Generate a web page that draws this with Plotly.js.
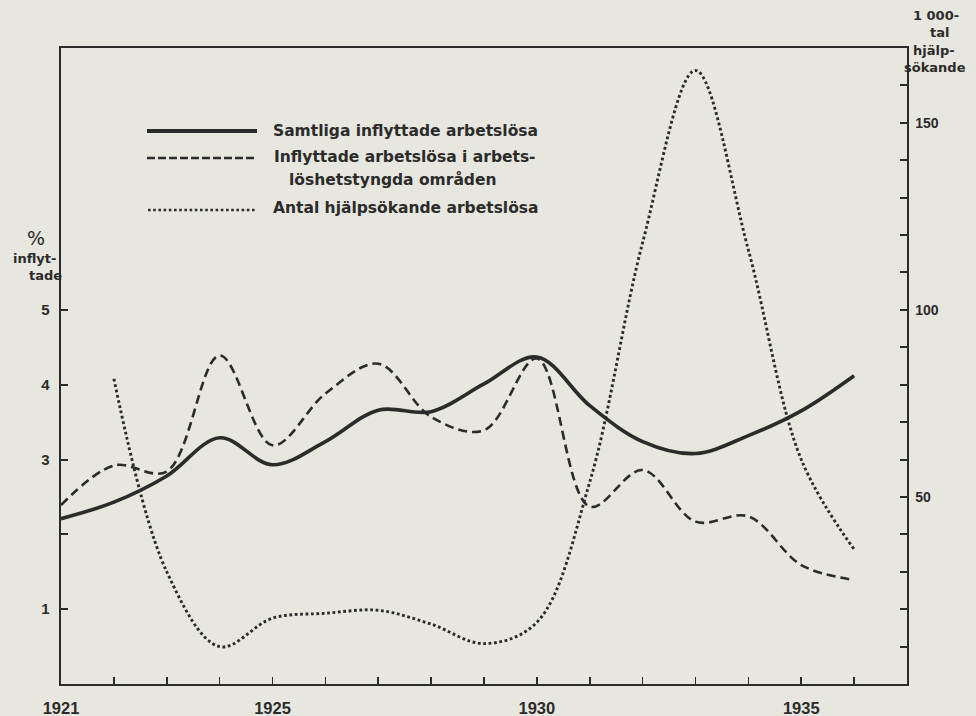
<!DOCTYPE html>
<html>
<head>
<meta charset="utf-8">
<script src="https://cdn.plot.ly/plotly-3.0.1.min.js"></script>
<style>html,body{margin:0;padding:0;background:#e7e7df;}#chart{width:976px;height:716px;}</style>
</head>
<body>
<div id="chart"></div>
<script>
// ---- data ----
const years = [1921,1922,1923,1924,1925,1926,1927,1928,1929,1930,1931,1932,1933,1934,1935,1936];
const samtliga = [2.21,2.43,2.78,3.29,2.93,3.24,3.66,3.64,4.01,4.37,3.72,3.24,3.08,3.32,3.65,4.12];
const tyngda = [2.39,2.92,2.84,4.39,3.19,3.88,4.28,3.57,3.39,4.35,2.37,2.86,2.17,2.24,1.59,1.39];
const hjalpYears = [1922,1923,1924,1925,1926,1927,1928,1929,1930,1931,1932,1933,1934,1935,1936];
const hjalp = [81.6,30,10,17.6,18.9,19.7,16,10.8,16.5,54,118,164,116,60,36];

const seriesNames = ["Samtliga inflyttade arbetslösa",
                     "Inflyttade arbetslösa i arbets-",
                     "löshetstyngda områden",
                     "Antal hjälpsökande arbetslösa"];
const xTickVals = [1921,1922,1923,1924,1925,1926,1927,1928,1929,1930,1931,1932,1933,1934,1935,1936,1937];
const xTickText = ["1921","","","","1925","","","","","1930","","","","","1935","",""];
const yTickVals = [1,2,3,4,5];
const yTickText = ["1","","3","4","5"];
const y2TickVals = [10,20,30,40,50,60,70,80,90,100,110,120,130,140,150,160];
const y2TickText = ["","","","","50","","","","","100","","","","","150",""];
const leftTitle = ["%","inflyt-","tade"];
const rightTitle = ["1 000-","tal","hjälp-","sökande"];

// ---- geometry helpers (pixel -> paper) ----
const L = 61, R = 907, T = 48, B = 684;
const px = x => (x - L) / (R - L);
const py = y => (B - y) / (B - T);

const ink = "#2b2b2b";
const bold = "Liberation Sans, Arial, sans-serif";
const legFont = "DejaVu Sans, sans-serif";

const traces = [
  {x: years, y: samtliga, type: "scatter", mode: "lines", name: seriesNames[0],
   line: {color: ink, width: 3.6, shape: "spline", smoothing: 1}, yaxis: "y"},
  {x: years, y: tyngda, type: "scatter", mode: "lines", name: seriesNames[1] + seriesNames[2],
   line: {color: ink, width: 2.6, dash: "9px,5px", shape: "spline", smoothing: 1}, yaxis: "y"},
  {x: hjalpYears, y: hjalp, type: "scatter", mode: "lines", name: seriesNames[3],
   line: {color: ink, width: 2.9, dash: "2.8px,2.6px", shape: "spline", smoothing: 1}, yaxis: "y2"}
];

const ann = [];
function addText(t, x, y, size, anchor, family, weight) {
  ann.push({text: t, xref: "paper", yref: "paper", x: px(x), y: py(y), showarrow: false,
    xanchor: anchor, yanchor: "middle", borderpad: 0,
    font: {family: family || bold, size: size, color: ink, weight: weight || "bold"}});
}
// legend texts
addText(seriesNames[0], 272, 131, 15.5, "left", legFont);
addText(seriesNames[1], 273, 157, 15.5, "left", legFont);
addText(seriesNames[2], 288, 180, 15.5, "left", legFont);
addText(seriesNames[3], 272, 208, 15.5, "left", legFont);
// left axis title
addText(leftTitle[0], 36, 238, 19, "center", "DejaVu Sans, sans-serif", "normal");
addText(leftTitle[1], 34, 258, 13, "center", legFont);
addText(leftTitle[2], 45, 275, 13, "center", legFont);
// right axis title
addText(rightTitle[0], 936, 15, 13, "center", legFont);
addText(rightTitle[1], 939, 32, 13, "center", legFont);
addText(rightTitle[2], 934, 50, 13, "center", legFont);
addText(rightTitle[3], 935, 67, 13, "center", legFont);

const shapes = [
  {type: "line", xref: "paper", yref: "paper", x0: px(147), x1: px(257), y0: py(131), y1: py(131),
   line: {color: ink, width: 4}},
  {type: "line", xref: "paper", yref: "paper", x0: px(147), x1: px(257), y0: py(158), y1: py(158),
   line: {color: ink, width: 2.6, dash: "8px,3px"}},
  {type: "line", xref: "paper", yref: "paper", x0: px(148), x1: px(257), y0: py(210), y1: py(210),
   line: {color: ink, width: 2.6, dash: "2.6px,2.6px"}}
];

const layout = {
  width: 976, height: 716,
  margin: {l: L, r: 976 - R, t: T, b: 716 - B, pad: 0},
  paper_bgcolor: "#e7e7df", plot_bgcolor: "#e7e7df",
  showlegend: false,
  xaxis: {range: [1921, 1937], tickmode: "array", tickvals: xTickVals, ticktext: xTickText,
    ticks: "inside", ticklen: 7, tickwidth: 1.6, tickcolor: ink,
    showline: true, linewidth: 2.4, linecolor: ink, mirror: true, showgrid: false, zeroline: false,
    ticklabelstandoff: 8,
    tickfont: {family: bold, size: 16.5, color: ink, weight: "bold"}},
  yaxis: {range: [0, 8.5], tickmode: "array", tickvals: yTickVals, ticktext: yTickText,
    ticks: "inside", ticklen: 7, tickwidth: 2, tickcolor: ink,
    showline: true, linewidth: 2.4, linecolor: ink, showgrid: false, zeroline: false,
    ticklabelstandoff: 6,
    tickfont: {family: bold, size: 15, color: ink, weight: "bold"}},
  yaxis2: {range: [0, 170], overlaying: "y", side: "right", tickmode: "array",
    tickvals: y2TickVals, ticktext: y2TickText,
    ticks: "inside", ticklen: 7, tickwidth: 2, tickcolor: ink,
    showline: true, linewidth: 2.4, linecolor: ink, showgrid: false, zeroline: false,
    ticklabelstandoff: 3,
    tickfont: {family: bold, size: 14, color: ink, weight: "bold"}},
  annotations: ann,
  shapes: shapes
};

Plotly.newPlot("chart", traces, layout, {staticPlot: true, displayModeBar: false});
</script>
</body>
</html>
